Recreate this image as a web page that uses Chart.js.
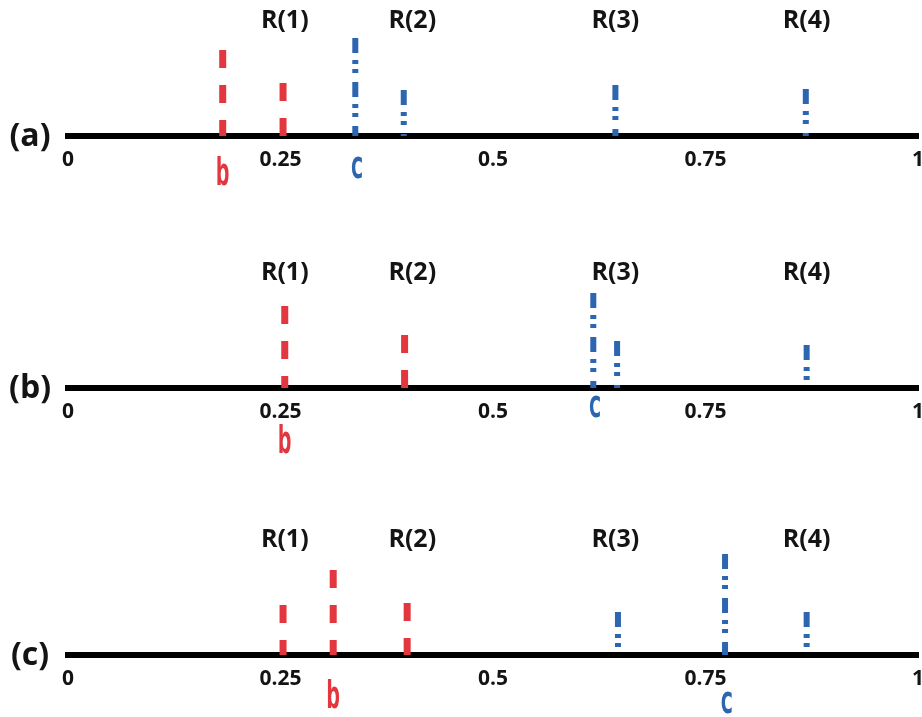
<!DOCTYPE html>
<html>
<head>
<meta charset="utf-8">
<script src="https://cdn.jsdelivr.net/npm/chart.js@4.4.1/dist/chart.umd.min.js"></script>
<style>
  html, body { margin: 0; padding: 0; background: #fff; overflow: hidden; }
  body { width: 922px; height: 717px; position: relative; }
  canvas { position: absolute; left: 0; }
</style>
</head>
<body>
<canvas id="panel-a" width="922" height="216" style="top:0px"></canvas>
<canvas id="panel-b" width="922" height="216" style="top:252px"></canvas>
<canvas id="panel-c" width="922" height="216" style="top:519px"></canvas>
<script>
// axis ticks and the R(n) markers along the 0..1 line
const tickValues = [0, 0.25, 0.5, 0.75, 1];
const rLabels = ["R(1)", "R(2)", "R(3)", "R(4)"];
const rPositions = [0.255, 0.405, 0.644, 0.869];
const panelNames = ["(a)", "(b)", "(c)"];

// red (b) bars: position and height for each panel
const redA = [0.182, 0.253];
const redAHeights = [86, 53];
const redB = [0.255, 0.396];
const redBHeights = [82, 53];
const redC = [0.253, 0.312, 0.399];
const redCHeights = [50, 85, 52];

// blue (c) bars
const blueA = [0.338, 0.395, 0.644, 0.868];
const blueAHeights = [98, 46, 51, 47];
const blueB = [0.618, 0.646, 0.869];
const blueBHeights = [95, 47, 43];
const blueC = [0.647, 0.773, 0.869];
const blueCHeights = [43, 101, 43];

// where the "b" and "c" letters sit on each axis
const bMarks = [0.182, 0.255, 0.312];
const cMarks = [0.340, 0.620, 0.775];

const RED = "#e2373e";
const BLUE = "#2c65b0";
const R_LABEL_LEVEL = 115;
// baseline offsets below the axis for the b / c letters (layout only)
const letterOffsets = [
  { b: 49, c: 42 },
  { b: 65, c: 29 },
  { b: 53, c: 58 },
];

function barSets(xs, hs, color, width, dash) {
  return xs.map((v, i) => ({
    data: [{ x: v, y: hs[i] }, { x: v, y: 0 }],
    borderColor: color,
    borderWidth: width,
    borderDash: dash,
    borderCapStyle: "butt",
    showLine: true,
    pointRadius: 0,
    fill: false,
  }));
}

function drawNarrow(ctx, ch, px, baseline, color) {
  ctx.save();
  ctx.translate(px, baseline);
  ctx.scale(0.62, 1);
  ctx.font = 'bold 37px "DejaVu Sans Mono"';
  ctx.textAlign = "center";
  ctx.textBaseline = "alphabetic";
  ctx.fillStyle = color;
  ctx.fillText(ch, 0, 0);
  ctx.restore();
}

// R labels, panel name and the b/c letters
const labelsPlugin = {
  id: "panelLabels",
  afterDraw(chart, args, opts) {
    const { ctx, chartArea, scales } = chart;
    const x = scales.x, y = scales.y;
    const axisY = chartArea.bottom;
    ctx.save();
    ctx.fillStyle = "#141414";
    ctx.textAlign = "center";
    ctx.textBaseline = "middle";
    ctx.font = 'bold 25px "Open Sans"';
    rLabels.forEach((t, i) => {
      ctx.fillText(t, x.getPixelForValue(rPositions[i]), y.getPixelForValue(R_LABEL_LEVEL));
    });
    ctx.font = 'bold 32px "Open Sans"';
    ctx.fillText(opts.name, 30, axisY + 1);
    ctx.restore();
    drawNarrow(ctx, "b", x.getPixelForValue(opts.b), axisY + opts.bOff, RED);
    drawNarrow(ctx, "c", x.getPixelForValue(opts.c), axisY + opts.cOff, BLUE);
  },
};

function makePanel(id, idx, reds, redHs, blues, blueHs) {
  const ctx = document.getElementById(id).getContext("2d");
  return new Chart(ctx, {
    type: "scatter",
    data: {
      datasets: [
        ...barSets(reds, redHs, RED, 7, [18, 17]),
        ...barSets(blues, blueHs, BLUE, 6, [15, 7, 4, 5, 4, 9]),
      ],
    },
    options: {
      responsive: false,
      animation: false,
      events: [],
      layout: { padding: { top: 16, left: 68, right: 4, bottom: 0 } },
      plugins: {
        legend: { display: false },
        tooltip: { enabled: false },
        panelLabels: {
          name: panelNames[idx],
          b: bMarks[idx],
          c: cMarks[idx],
          bOff: letterOffsets[idx].b,
          cOff: letterOffsets[idx].c,
        },
      },
      scales: {
        x: {
          type: "linear",
          min: 0,
          max: 1,
          afterBuildTicks: (axis) => {
            axis.ticks = tickValues.map((v) => ({ value: v }));
          },
          afterFit: (axis) => {
            axis.height = 80;
            axis.paddingLeft = 0;
            axis.paddingRight = 0;
          },
          grid: { display: false, drawTicks: false },
          border: { display: true, color: "#000", width: 6 },
          ticks: {
            color: "#141414",
            font: { family: "Open Sans", weight: "bold", size: 21 },
            padding: 11,
            maxRotation: 0,
            autoSkip: false,
            callback: (v) => String(v),
          },
        },
        y: { display: false, min: 0, max: 120 },
      },
    },
    plugins: [labelsPlugin],
  });
}

makePanel("panel-a", 0, redA, redAHeights, blueA, blueAHeights);
makePanel("panel-b", 1, redB, redBHeights, blueB, blueBHeights);
makePanel("panel-c", 2, redC, redCHeights, blueC, blueCHeights);
</script>
</body>
</html>
